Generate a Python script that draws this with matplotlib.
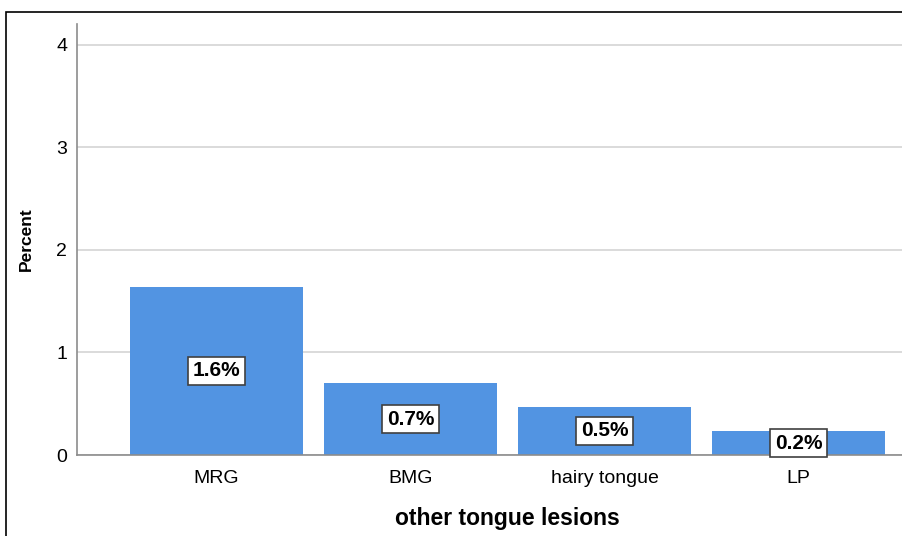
import matplotlib
matplotlib.use("Agg")
import matplotlib.pyplot as plt
from matplotlib.patches import Rectangle

categories = ["MRG", "BMG", "hairy tongue", "LP"]
values = [1.64, 0.70, 0.47, 0.23]
labels = ["1.6%", "0.7%", "0.5%", "0.2%"]
yticks = [0, 1, 2, 3, 4]

plt.rcParams['font.family'] = ['Liberation Sans', 'DejaVu Sans']

W, H = 903, 536
fig = plt.figure(figsize=(W / 100, H / 100), dpi=100)
fig.patch.set_facecolor('white')

# axes extends slightly past the right edge of the picture (cropped original)
left_px, right_px, bottom_px, top_px = 77, 938, 455, 24
ax = fig.add_axes([left_px / W, (H - bottom_px) / H, (right_px - left_px) / W, (bottom_px - top_px) / H])

x = list(range(len(categories)))
ax.bar(x, values, width=0.89, color='#5294E2', zorder=2)
ax.set_xlim(-0.72, 3.72)
ax.set_ylim(0, 4.2)
ax.set_yticks(yticks)
ax.set_xticks(x)
ax.set_xticklabels(categories)
ax.tick_params(axis='both', length=0, labelsize=14, colors='black')
ax.tick_params(axis='x', pad=11)
ax.tick_params(axis='y', pad=7)
ax.yaxis.grid(True, color='#d4d4d4', linewidth=1.2, zorder=0)
ax.set_axisbelow(True)
for s in ['top', 'right']:
    ax.spines[s].set_visible(False)
for s in ['left', 'bottom']:
    ax.spines[s].set_color('#8c8c8c')
    ax.spines[s].set_linewidth(1.2)

for xi, v, lab in zip(x, values, labels):
    ax.text(xi, v / 2, lab, ha='center', va='center', fontsize=15, fontweight='bold', zorder=3,
            bbox=dict(boxstyle='square,pad=0.22', facecolor='white', edgecolor='#404040', linewidth=1.2))

ax.set_xlabel("other tongue lesions", fontsize=16.5, fontweight='bold', labelpad=14)
ax.set_ylabel("Percent", fontsize=12.5, fontweight='bold', labelpad=16)

fig.patches.append(Rectangle((6 / W, -0.1), 1.2, (H - 12) / H + 0.1, transform=fig.transFigure,
                             fill=False, edgecolor='black', linewidth=1.2, zorder=10))

fig.savefig("out.png", dpi=100)
